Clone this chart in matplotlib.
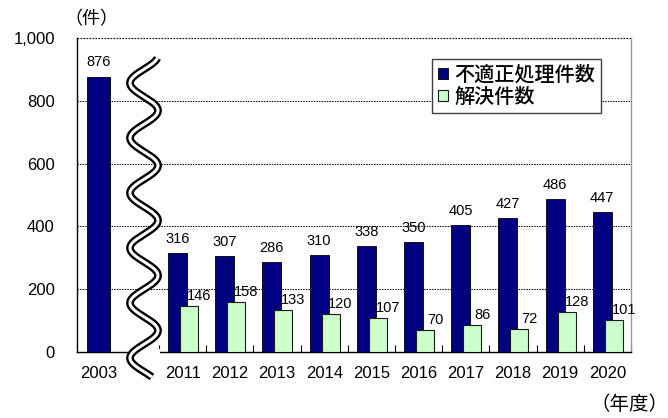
import numpy as np
import matplotlib
matplotlib.use("Agg")
import matplotlib.pyplot as plt
from matplotlib.patches import Patch, Rectangle

# ---- data ----
year_first = "2003"
improper_first = 876
years = ["2011", "2012", "2013", "2014", "2015", "2016", "2017", "2018", "2019", "2020"]
improper = [316, 307, 286, 310, 338, 350, 405, 427, 486, 447]
resolved = [146, 158, 133, 120, 107, 70, 86, 72, 128, 101]
yticks = [0, 200, 400, 600, 800, 1000]
ytick_labels = ["0", "200", "400", "600", "800", "1,000"]
legend_labels = ["不適正処理件数", "解決件数"]

W, H = 668, 418
fig = plt.figure(figsize=(W / 100, H / 100), dpi=100)
L, R, T, B = 77, 631, 38, 352
ax = fig.add_axes([L / W, (H - B) / H, (R - L) / W, (B - T) / H])

slot = 47.2  # px per category
def px2x(px):
    return (px - L) / slot
def py2y(py):
    return (B - py) / (B - T) * 1000

xmax = (R - L) / slot
ax.set_xlim(0, xmax)
ax.set_ylim(0, 1000)

navy = "#000080"
light = "#CCFFCC"

# 2003 bar
x0 = px2x(98.5)
ax.bar([x0], [improper_first], width=23 / slot, color=navy, edgecolor="black", linewidth=0.6, zorder=3)

# main bars
centers = px2x(182.6) + np.arange(len(years))
dark_off = -5.1 / slot
light_off = 6.4 / slot
ax.bar(centers + dark_off, improper, width=19 / slot, color=navy, edgecolor="black", linewidth=0.6, zorder=3)
ax.bar(centers + light_off, resolved, width=18 / slot, color=light, edgecolor="#1a1a1a", linewidth=0.8, zorder=4)

numfont = dict(family="Liberation Sans", fontsize=10.5, color="black")
ax.annotate(str(improper_first), (x0, improper_first), xytext=(0, 8), textcoords="offset pixels",
            ha="center", va="bottom", **numfont)
for c, v in zip(centers, improper):
    ax.annotate(str(v), (c + dark_off, v), xytext=(0, 7), textcoords="offset pixels",
                ha="center", va="bottom", zorder=6, **numfont)
for c, v in zip(centers, resolved):
    ax.annotate(str(v), (c + light_off, v), xytext=(10, 3), textcoords="offset pixels",
                ha="center", va="bottom", zorder=6, **numfont)

# y axis
ax.set_yticks(yticks)
ax.set_yticklabels(ytick_labels, family="Liberation Sans", fontsize=12)
ax.tick_params(axis="y", length=0, pad=16)
for yv in yticks[1:-1]:
    ax.axhline(yv, color="black", linewidth=0.7, linestyle=(0, (1.5, 1.2)), zorder=1)

# x axis: boundary ticks (major) and label positions (minor)
bounds = px2x(159) + np.arange(len(years) + 1)
ax.set_xticks(bounds)
ax.set_xticklabels([""] * len(bounds))
ax.tick_params(axis="x", which="major", direction="in", length=5, width=0.8)
ax.set_xticks([x0] + list(centers), minor=True)
ax.set_xticklabels([year_first] + years, minor=True, family="Liberation Sans", fontsize=12)
ax.tick_params(axis="x", which="minor", length=0, pad=10)

# spines
ax.spines["left"].set_color("black")
ax.spines["left"].set_linewidth(1.0)
ax.spines["bottom"].set_color("black")
ax.spines["bottom"].set_linewidth(1.0)
ax.spines["right"].set_color("#999999")
ax.spines["right"].set_linewidth(1.0)
ax.spines["top"].set_visible(False)
ax.axhline(1000, color="black", linewidth=0.8, linestyle=(0, (1.5, 1.2)), zorder=1, clip_on=False)

# break mark (gap in baseline + double wavy line)
ax.add_patch(Rectangle((px2x(129), py2y(355)), px2x(159.5) - px2x(129), py2y(349) - py2y(355),
                       facecolor="white", edgecolor="none", zorder=5, clip_on=False,
                       transform=ax.transData))
wy = np.linspace(58, 377, 600)
wx = 144 - 14 * np.cos(2 * np.pi * (wy - 83) / 55)
ax.plot(px2x(wx), py2y(wy), color="black", linewidth=5.6, solid_capstyle="butt", zorder=6, clip_on=False)
ax.plot(px2x(wx), py2y(wy), color="white", linewidth=2.2, solid_capstyle="butt", zorder=7, clip_on=False)

# legend
handles = [Patch(facecolor=navy, edgecolor="black", linewidth=0.6),
           Patch(facecolor=light, edgecolor="#1a1a1a", linewidth=0.8)]
leg = ax.legend(handles, legend_labels, loc="upper left",
                bbox_to_anchor=((432 - L) / (R - L), (B - 59) / (B - T)),
                borderaxespad=0, fancybox=False, framealpha=1, edgecolor="#404040",
                prop=dict(family=["Noto Sans CJK JP", "DejaVu Sans"], size=14.5, weight="medium"),
                handlelength=0.5, handleheight=0.5, handletextpad=0.3,
                labelspacing=0.15, borderpad=0.3)
leg.get_frame().set_linewidth(1.0)
leg.set_zorder(8)

# unit labels
fig.text(91 / W, 1 - 19 / H, "（件）", ha="center", va="center",
         family=["Noto Sans CJK JP", "DejaVu Sans"], fontsize=13)
fig.text(630 / W, 1 - 405 / H, "（年度）", ha="center", va="center",
         family=["Noto Sans CJK JP", "DejaVu Sans"], fontsize=14)

fig.savefig("out.png", dpi=100)
